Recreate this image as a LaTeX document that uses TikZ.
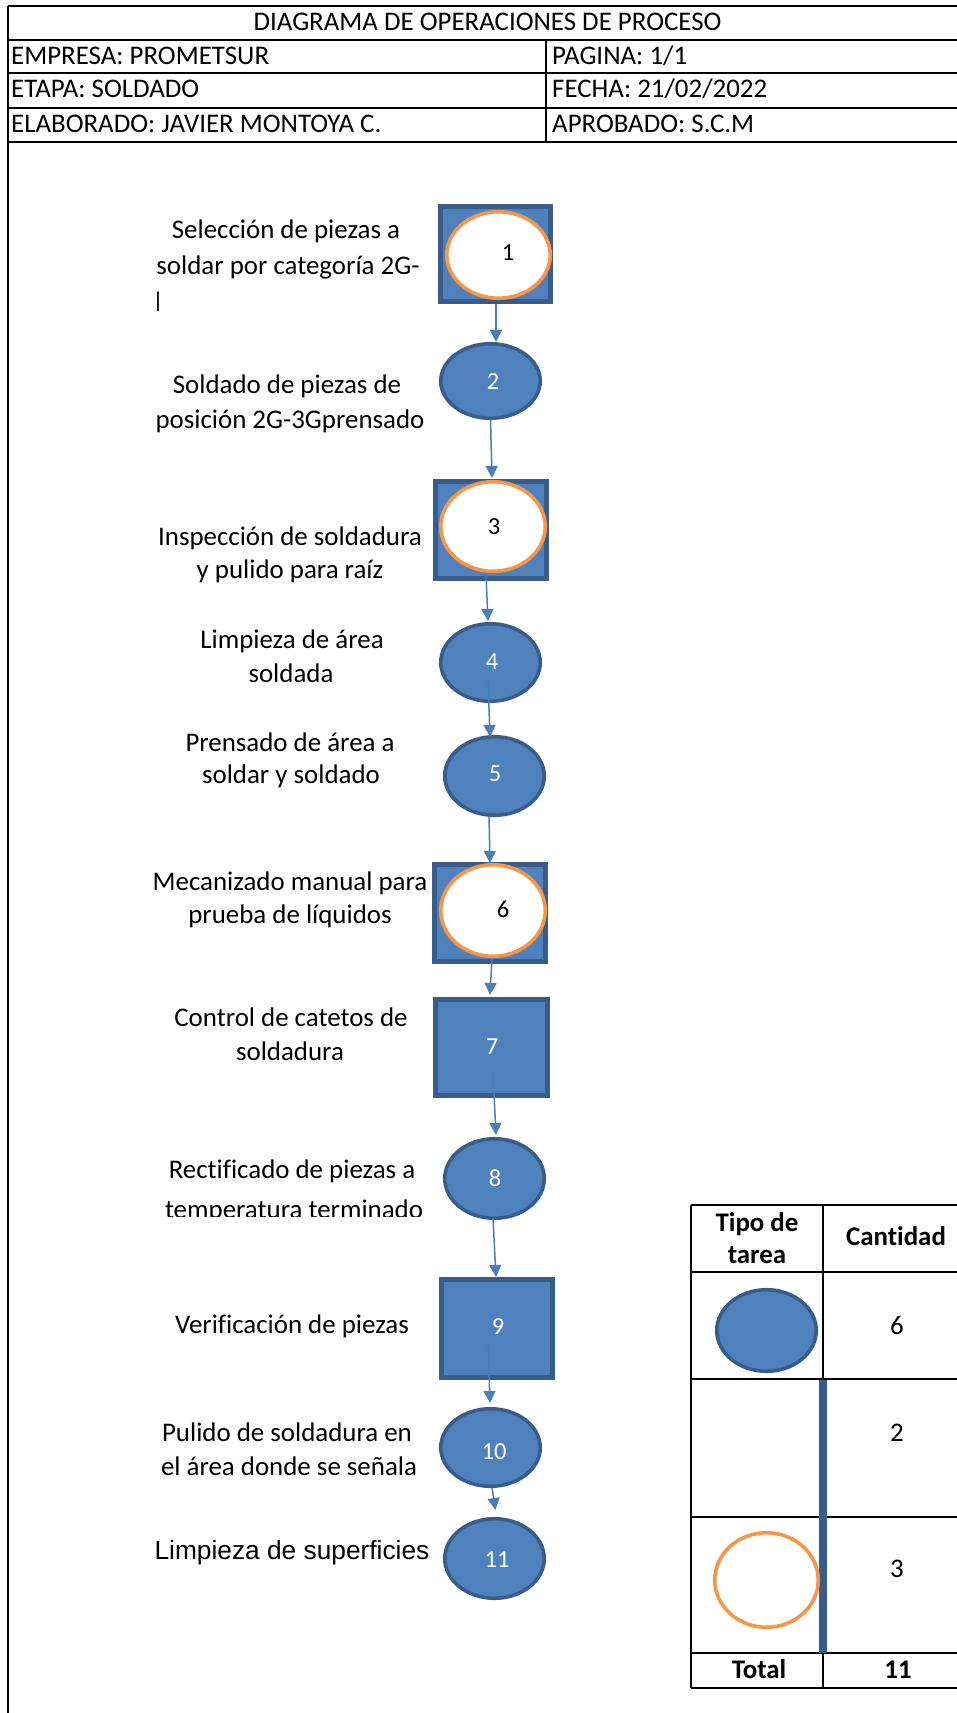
\documentclass[tikz,border=0pt]{standalone}
\usepackage{fontspec}
\setmainfont{Carlito}[RawFeature=-liga]
\newfontfamily\arialfam{Liberation Sans}
\usetikzlibrary{shapes.geometric,arrows.meta,calc}
\definecolor{opfill}{HTML}{4F81BD}
\definecolor{opedge}{HTML}{385D8A}
\definecolor{inspedge}{HTML}{F79646}
\definecolor{flowline}{HTML}{4A7EBB}
\newcommand\txtsize{\fontsize{26.9pt}{33pt}\selectfont}
\newcommand\digsize{\fontsize{24.5pt}{28pt}\selectfont}

\begin{document}
\begin{tikzpicture}[x=1pt,y=-1pt,
  grid/.style={line width=2.6pt, black},
  tgrid/.style={line width=2.2pt, black},
  txt/.style={font=\txtsize, anchor=base, inner sep=0pt},
  headtxt/.style={font=\txtsize, anchor=base west, inner sep=0pt},
  boldtxt/.style={font=\txtsize\bfseries, anchor=base, inner sep=0pt},
  opbox/.style={rectangle, draw=opedge, fill=opfill, line width=4.6pt, inner sep=0pt},
  opoval/.style={ellipse, draw=opedge, fill=opfill, line width=3.6pt, inner sep=0pt},
  inspoval/.style={ellipse, draw=inspedge, fill=white, line width=3.6pt, inner sep=0pt},
  numw/.style={font=\digsize, text=white, inner sep=0pt},
  numk/.style={font=\digsize, text=black, inner sep=0pt},
  flow/.style={draw=flowline, line width=1.5pt, -{Triangle[width=12pt,length=12pt]}}]

\useasboundingbox (0,0) rectangle (957,1713);
\fill[white] (0,0) rectangle (957,1713);

% ---------- header block ----------
\draw[grid] (8,6) -- (957,6);
\draw[grid] (8,40) -- (957,40);
\draw[grid] (8,73) -- (957,73);
\draw[grid] (8,108) -- (957,108);
\draw[grid] (8,142) -- (957,142);
\draw[grid] (8,6) -- (8,1713);
\draw[grid] (546,40) -- (546,142);

\node[txt] (title) at (487.5,30) {DIAGRAMA DE OPERACIONES DE PROCESO};
\node[headtxt] (empresa) at (11,64) {EMPRESA: PROMETSUR};
\node[headtxt] (etapa) at (11,97.5) {ETAPA: SOLDADO};
\node[headtxt] (elab) at (11,132) {ELABORADO: JAVIER MONTOYA C.};
\node[headtxt] (pagina) at (552,64) {PAGINA: 1/1};
\node[headtxt] (fecha) at (552,97.5) {FECHA: 21/02/2022};
\node[headtxt] (aprob) at (552,132) {APROBADO: S.C.M};

% ---------- process symbols ----------
\node[opbox, minimum width=110.5pt, minimum height=95.5pt] (s1) at (495.5,254) {};
\node[inspoval, minimum width=103.5pt, minimum height=86.5pt] (o1) at (498.5,255) {};
\node[opoval, minimum width=99.5pt, minimum height=74.5pt] (e2) at (490.5,381) {};
\node[opbox, minimum width=111.5pt, minimum height=97.5pt] (s3) at (491,530) {};
\node[inspoval, minimum width=104.5pt, minimum height=89.5pt] (o3) at (493,526.5) {};
\node[opoval, minimum width=99.5pt, minimum height=77.5pt] (e4) at (490.5,662.5) {};
\node[opoval, minimum width=99.5pt, minimum height=78.5pt] (e5) at (494.5,776) {};
\node[opbox, minimum width=111.5pt, minimum height=97.5pt] (s6) at (490,913) {};
\node[inspoval, minimum width=104.5pt, minimum height=91.5pt] (o6) at (493,910.5) {};
\node[opbox, minimum width=112.5pt, minimum height=96.5pt] (s7) at (491.5,1047.5) {};
\node[opoval, minimum width=99.5pt, minimum height=79.5pt] (e8) at (494.5,1178.5) {};
\node[opbox, minimum width=111.5pt, minimum height=98.5pt] (s9) at (497,1328.5) {};
\node[opoval, minimum width=99.5pt, minimum height=77.5pt] (e10) at (490.5,1447.5) {};
\node[opoval, minimum width=99.5pt, minimum height=79.5pt] (e11) at (494.5,1558.5) {};

% ---------- connectors ----------
\draw[flow] ($(s1.south)+(0.5,0)$) -- ($(e2.north)+(5.5,0)$);
\draw[flow] (e2.south) -- ($(s3.north)+(1,-1)$);
\draw[flow] ($(o3.south)+(-7,2)$) -- ($(e4.north)+(-2.5,-1)$);
\draw[flow] ($(e4.center)+(-2.5,17.5)$) -- ($(e5.north)+(-4.5,2)$);
\draw[flow] ($(e5.south)+(-5.5,0)$) -- ($(s6.north)+(0,1)$);
\draw[flow] ($(o6.south)+(-1,0)$) -- ($(s7.north)+(-1.5,-2)$);
\draw[flow] ($(s7.center)+(1.5,25.5)$) -- ($(e8.north)+(1.5,-2)$);
\draw[flow] ($(e8.south)+(-1.5,-2)$) -- ($(s9.north)+(-1,0)$);
\draw[flow] ($(s9.center)+(-9,13.5)$) -- ($(e10.north)+(-0.5,-4)$);
\draw[flow] ($(e10.south)+(1.5,0)$) -- ($(e11.north)+(1,-7)$);

% ---------- step numbers ----------
\node[numk] (n1) at (508,253) {1};
\node[numw] (n2) at (493,382) {2};
\node[numk] (n3) at (494,527) {3};
\node[numw] (n4) at (492,662) {4};
\node[numw] (n5) at (495,774) {5};
\node[numk] (n6) at (503,909) {6};
\node[numw] (n7) at (492,1047) {7};
\node[numw] (n8) at (495,1178) {8};
\node[numw] (n9) at (498,1327) {9};
\node[numw] (n10) at (494,1452) {10};
\node[numw] (n11) at (497,1560) {11};

% ---------- step descriptions ----------
\node[txt] (t1a) at (286,238) {Selección de piezas a};
\node[txt] (t1b) at (288,274) {soldar por categoría 2G-};
\begin{scope}
  \clip (140,280) rectangle (200,310);
  \node[txt] (t1c) at (158,311) {|};
\end{scope}
\node[txt] (t2a) at (287,393) {Soldado de piezas de};
\node[txt] (t2b) at (290,428) {posición 2G-3Gprensado};
\node[txt] (t3a) at (290,545) {Inspección de soldadura};
\node[txt] (t3b) at (290,578) {y pulido para raíz};
\node[txt] (t4a) at (292,648) {Limpieza de área};
\node[txt] (t4b) at (291,682) {soldada};
\node[txt] (t5a) at (290,751) {Prensado de área a};
\node[txt] (t5b) at (291,783) {soldar y soldado};
\node[txt] (t6a) at (290,890) {Mecanizado manual para};
\node[txt] (t6b) at (290,923) {prueba de líquidos};
\node[txt] (t7a) at (291,1026) {Control de catetos de};
\node[txt] (t7b) at (290,1060) {soldadura};
\node[txt] (t8a) at (292,1178) {Rectificado de piezas a};
\begin{scope}
  \clip (140,1190) rectangle (440,1216.5);
  \node[txt] (t8b) at (294,1218) {temperatura terminado};
\end{scope}
\node[txt] (t9) at (292,1333) {Verificación de piezas};
\node[txt] (t10a) at (287,1441) {Pulido de soldadura en};
\node[txt] (t10b) at (289,1475) {el área donde se señala};
\node[txt, font=\arialfam\fontsize{26.3pt}{30pt}\selectfont] (t11) at (292,1559) {Limpieza de superficies};

% ---------- summary table ----------
\draw[tgrid] (691,1205) -- (957,1205);
\draw[tgrid] (691,1272) -- (957,1272);
\draw[tgrid] (691,1379) -- (957,1379);
\draw[tgrid] (691,1517) -- (957,1517);
\draw[tgrid] (691,1653) -- (957,1653);
\draw[tgrid] (691,1688) -- (957,1688);
\draw[tgrid] (691,1205) -- (691,1688);
\draw[tgrid] (823,1205) -- (823,1688);
\fill[opedge] (819,1380) rectangle (827,1653);

\node[opoval, minimum width=99.5pt, minimum height=81.5pt] (kop) at (766.5,1330.5) {};
\node[inspoval, minimum width=103.5pt, minimum height=94.5pt] (kinsp) at (766.5,1580) {};

\node[boldtxt] (hTipo) at (757,1231.5) {Tipo de};
\node[boldtxt] (hTarea) at (757,1263.5) {tarea};
\node[boldtxt] (hCant) at (896,1245) {Cantidad};
\node[txt] (c1) at (897,1334) {6};
\node[txt] (c2) at (897,1441.5) {2};
\node[txt] (c3) at (897,1577) {3};
\node[boldtxt] (hTotal) at (759,1678) {Total};
\node[boldtxt] (cTotal) at (898,1678) {11};

\end{tikzpicture}
\end{document}
